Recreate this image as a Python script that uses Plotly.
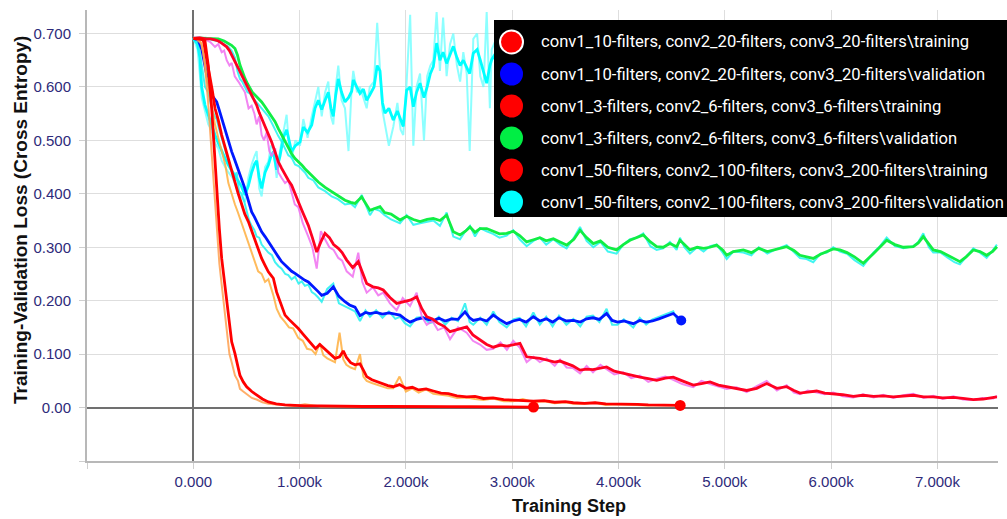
import plotly.graph_objects as go

# ---------------- data ----------------
# run A: conv1_50 / conv2_100 / conv3_200  (training)
steps_a = [0, 40, 80, 110, 140, 173, 200, 220, 245, 267, 290, 314, 340, 361, 392, 420, 439, 470, 502, 550,
           596, 650, 706, 780, 863, 950, 1050, 1200, 1400, 1600, 1800, 2000, 2200, 2400, 2600, 2800, 3000, 3200]
smooth_a = [0.691, 0.690, 0.689, 0.686, 0.641, 0.560, 0.470, 0.404, 0.335, 0.279, 0.240, 0.204, 0.158, 0.123, 0.101,
            0.076, 0.060, 0.048, 0.039, 0.030, 0.023, 0.016, 0.0105, 0.007, 0.005, 0.004, 0.003, 0.003, 0.002, 0.002,
            0.002, 0.002, 0.001, 0.002, 0.001, 0.001, 0.001, 0.001]
raw_a = [0.692, 0.688, 0.680, 0.640, 0.570, 0.470, 0.400, 0.330, 0.270, 0.230, 0.190, 0.140, 0.100, 0.085, 0.060,
         0.050, 0.035, 0.030, 0.025, 0.018, 0.015, 0.010, 0.007, 0.006, 0.004, 0.003, 0.006, 0.002, 0.002, 0.001,
         0.003, 0.002, 0.001, 0.001, 0.002, 0.001, 0.001, 0.001]

# run B: conv1_10 / conv2_20 / conv3_20  (training)
steps_b = [0, 40, 70, 94, 125, 157, 180, 204, 235, 267,
           300, 330, 360, 392, 420, 455, 485, 518, 550, 580,
           610, 643, 675, 706, 730, 753, 784, 820, 863, 900,
           940, 988, 1030, 1070, 1114, 1150, 1190, 1223, 1260, 1300,
           1333, 1376, 1411, 1440, 1480, 1521, 1568, 1600, 1631, 1680,
           1730, 1780, 1830, 1881, 1940, 2000, 2060, 2120, 2190, 2258,
           2330, 2400, 2480, 2572, 2650, 2730, 2820, 2920, 3010, 3100,
           3200, 3300, 3400, 3500, 3575, 3680, 3780, 3880, 3980, 4077,
           4180, 4280, 4380, 4480, 4580]
smooth_b = [0.691, 0.691, 0.690, 0.688, 0.655, 0.622, 0.592, 0.560, 0.538, 0.510,
            0.488, 0.466, 0.445, 0.422, 0.402, 0.379, 0.362, 0.348, 0.330, 0.316,
            0.298, 0.279, 0.266, 0.254, 0.248, 0.242, 0.216, 0.198, 0.173, 0.165,
            0.158, 0.148, 0.138, 0.128, 0.117, 0.110, 0.118, 0.112, 0.104, 0.098,
            0.092, 0.095, 0.106, 0.094, 0.084, 0.080, 0.082, 0.070, 0.058, 0.052,
            0.048, 0.044, 0.041, 0.039, 0.043, 0.036, 0.038, 0.033, 0.035, 0.031,
            0.027, 0.026, 0.022, 0.020, 0.021, 0.017, 0.018, 0.015, 0.014, 0.013,
            0.012, 0.013, 0.010, 0.011, 0.009, 0.008, 0.009, 0.007, 0.007, 0.006,
            0.006, 0.005, 0.005, 0.005, 0.004]
raw_b = [0.692, 0.690, 0.684, 0.665, 0.620, 0.585, 0.560, 0.530, 0.505, 0.480,
         0.455, 0.420, 0.400, 0.380, 0.365, 0.345, 0.330, 0.310, 0.290, 0.275,
         0.255, 0.250, 0.235, 0.240, 0.225, 0.210, 0.185, 0.170, 0.160, 0.150,
         0.148, 0.130, 0.125, 0.110, 0.108, 0.100, 0.120, 0.098, 0.092, 0.088,
         0.085, 0.140, 0.090, 0.080, 0.075, 0.072, 0.100, 0.058, 0.050, 0.046,
         0.043, 0.040, 0.036, 0.036, 0.058, 0.030, 0.036, 0.028, 0.034, 0.026,
         0.024, 0.022, 0.018, 0.019, 0.016, 0.014, 0.017, 0.012, 0.012, 0.016,
         0.010, 0.012, 0.008, 0.010, 0.007, 0.007, 0.009, 0.005, 0.006, 0.005,
         0.005, 0.004, 0.005, 0.004, 0.004]

# run C: conv1_3 / conv2_6 / conv3_6  (training)
steps_c = [0, 60, 120, 160, 204, 235, 267, 290, 314, 340,
           361, 390, 424, 455, 486, 520, 549, 575, 596, 620,
           643, 665, 690, 715, 737, 770, 800, 830, 863, 895,
           925, 955, 988, 1030, 1082, 1120, 1161, 1200, 1239, 1280,
           1320, 1364, 1400, 1443, 1500, 1552, 1590, 1631, 1690, 1740,
           1787, 1850, 1913, 1970, 2039, 2101, 2150, 2196, 2250, 2300,
           2360, 2415, 2490, 2572, 2630, 2697, 2760, 2822, 2890, 2950,
           3010, 3073, 3136, 3200, 3260, 3324, 3400, 3450, 3512, 3570,
           3638, 3700, 3760, 3830, 3888, 3960, 4045, 4120, 4202, 4280,
           4359, 4440, 4515, 4600, 4703, 4780, 4861, 4940, 5018, 5110,
           5206, 5300, 5394, 5490, 5582, 5650, 5707, 5780, 5864, 5940,
           6021, 6110, 6209, 6300, 6400, 6490, 6585, 6680, 6773, 6870,
           6961, 7050, 7150, 7240, 7338, 7430, 7526, 7560]
smooth_c = [0.691, 0.692, 0.690, 0.690, 0.688, 0.686, 0.682, 0.679, 0.675, 0.668,
            0.660, 0.650, 0.635, 0.622, 0.610, 0.598, 0.585, 0.575, 0.566, 0.552,
            0.541, 0.532, 0.522, 0.510, 0.497, 0.478, 0.460, 0.448, 0.435, 0.425,
            0.416, 0.400, 0.385, 0.365, 0.341, 0.318, 0.291, 0.310, 0.326, 0.318,
            0.305, 0.298, 0.290, 0.276, 0.262, 0.273, 0.252, 0.232, 0.226, 0.224,
            0.220, 0.206, 0.195, 0.198, 0.201, 0.207, 0.185, 0.170, 0.166, 0.158,
            0.152, 0.142, 0.146, 0.151, 0.136, 0.126, 0.118, 0.113, 0.117, 0.115,
            0.118, 0.120, 0.095, 0.094, 0.092, 0.089, 0.085, 0.087, 0.082, 0.078,
            0.070, 0.072, 0.071, 0.074, 0.076, 0.068, 0.064, 0.060, 0.057, 0.054,
            0.051, 0.055, 0.057, 0.050, 0.042, 0.045, 0.048, 0.042, 0.039, 0.036,
            0.032, 0.036, 0.045, 0.036, 0.039, 0.032, 0.027, 0.029, 0.031, 0.027,
            0.026, 0.024, 0.021, 0.023, 0.021, 0.022, 0.020, 0.021, 0.023, 0.020,
            0.020, 0.018, 0.019, 0.017, 0.015, 0.016, 0.018, 0.020]
raw_c = [0.692, 0.693, 0.688, 0.684, 0.675, 0.680, 0.665, 0.668, 0.650, 0.640,
         0.645, 0.620, 0.610, 0.600, 0.590, 0.560, 0.565, 0.550, 0.530, 0.545,
         0.510, 0.500, 0.515, 0.480, 0.470, 0.485, 0.440, 0.430, 0.420, 0.425,
         0.400, 0.380, 0.375, 0.345, 0.320, 0.300, 0.260, 0.330, 0.315, 0.300,
         0.295, 0.280, 0.275, 0.255, 0.245, 0.290, 0.235, 0.215, 0.225, 0.210,
         0.215, 0.195, 0.182, 0.205, 0.190, 0.215, 0.170, 0.155, 0.162, 0.145,
         0.150, 0.128, 0.150, 0.140, 0.125, 0.118, 0.108, 0.110, 0.122, 0.108,
         0.125, 0.112, 0.085, 0.095, 0.085, 0.092, 0.078, 0.090, 0.075, 0.074,
         0.064, 0.078, 0.066, 0.080, 0.072, 0.062, 0.066, 0.055, 0.060, 0.048,
         0.054, 0.058, 0.052, 0.044, 0.038, 0.050, 0.044, 0.040, 0.035, 0.038,
         0.029, 0.040, 0.050, 0.032, 0.042, 0.028, 0.025, 0.032, 0.028, 0.025,
         0.028, 0.021, 0.019, 0.025, 0.019, 0.024, 0.018, 0.023, 0.026, 0.018,
         0.022, 0.016, 0.021, 0.015, 0.014, 0.018, 0.017, 0.022]

# run D: conv1_3 / conv2_6 / conv3_6  (validation)
steps_d = [0, 60, 120, 180, 235, 290, 330, 360, 392, 415,
           439, 460, 486, 510, 533, 555, 580, 610, 643, 675,
           706, 740, 769, 800, 831, 865, 894, 925, 957, 990,
           1020, 1050, 1082, 1130, 1176, 1240, 1302, 1360, 1427, 1480,
           1521, 1584, 1662, 1700, 1756, 1800, 1860, 1944, 2007, 2070,
           2133, 2200, 2258, 2320, 2383, 2446, 2509, 2560, 2603, 2650,
           2697, 2760, 2820, 2880, 2948, 3010, 3070, 3136, 3200, 3260,
           3320, 3387, 3450, 3512, 3580, 3638, 3700, 3763, 3830, 3900,
           3982, 4045, 4108, 4170, 4233, 4300, 4359, 4420, 4484, 4547,
           4578, 4620, 4672, 4740, 4800, 4860, 4923, 4980, 5018, 5080,
           5174, 5250, 5320, 5400, 5480, 5582, 5650, 5707, 5770, 5832,
           5900, 5960, 6020, 6083, 6150, 6220, 6303, 6397, 6460, 6523,
           6600, 6680, 6773, 6820, 6867, 6920, 6961, 7030, 7100, 7160,
           7212, 7270, 7338, 7400, 7463, 7520, 7560]
smooth_d = [0.691, 0.692, 0.691, 0.690, 0.690, 0.686, 0.682, 0.678, 0.672, 0.660,
            0.641, 0.628, 0.616, 0.606, 0.597, 0.590, 0.585, 0.579, 0.572, 0.563,
            0.554, 0.545, 0.535, 0.522, 0.510, 0.497, 0.485, 0.475, 0.466, 0.460,
            0.454, 0.447, 0.441, 0.432, 0.422, 0.412, 0.404, 0.395, 0.388, 0.384,
            0.382, 0.394, 0.369, 0.372, 0.376, 0.365, 0.362, 0.351, 0.358, 0.352,
            0.348, 0.352, 0.354, 0.350, 0.360, 0.329, 0.323, 0.330, 0.338, 0.328,
            0.335, 0.335, 0.330, 0.325, 0.326, 0.330, 0.322, 0.310, 0.314, 0.318,
            0.312, 0.316, 0.310, 0.304, 0.315, 0.332, 0.318, 0.307, 0.312, 0.300,
            0.295, 0.305, 0.313, 0.318, 0.323, 0.310, 0.301, 0.300, 0.307, 0.301,
            0.313, 0.305, 0.295, 0.300, 0.298, 0.300, 0.304, 0.295, 0.285, 0.292,
            0.295, 0.290, 0.298, 0.292, 0.296, 0.301, 0.294, 0.285, 0.282, 0.279,
            0.287, 0.292, 0.297, 0.295, 0.290, 0.282, 0.270, 0.288, 0.300, 0.313,
            0.305, 0.300, 0.301, 0.308, 0.320, 0.305, 0.295, 0.292, 0.285, 0.278,
            0.273, 0.282, 0.295, 0.292, 0.285, 0.292, 0.301]
raw_d = [0.692, 0.690, 0.692, 0.688, 0.686, 0.680, 0.675, 0.668, 0.655, 0.630,
         0.615, 0.610, 0.600, 0.590, 0.588, 0.580, 0.575, 0.568, 0.560, 0.552,
         0.545, 0.532, 0.520, 0.508, 0.498, 0.485, 0.472, 0.468, 0.455, 0.452,
         0.445, 0.440, 0.430, 0.425, 0.412, 0.405, 0.395, 0.390, 0.380, 0.382,
         0.375, 0.398, 0.360, 0.372, 0.368, 0.360, 0.352, 0.345, 0.360, 0.342,
         0.345, 0.348, 0.350, 0.340, 0.365, 0.320, 0.315, 0.330, 0.340, 0.320,
         0.336, 0.330, 0.325, 0.318, 0.322, 0.332, 0.315, 0.302, 0.312, 0.318,
         0.305, 0.315, 0.305, 0.298, 0.318, 0.338, 0.312, 0.300, 0.310, 0.292,
         0.288, 0.305, 0.315, 0.318, 0.326, 0.302, 0.295, 0.298, 0.310, 0.295,
         0.318, 0.300, 0.288, 0.300, 0.292, 0.302, 0.305, 0.290, 0.278, 0.292,
         0.290, 0.285, 0.300, 0.288, 0.296, 0.304, 0.290, 0.280, 0.278, 0.272,
         0.288, 0.290, 0.300, 0.292, 0.288, 0.276, 0.265, 0.290, 0.302, 0.318,
         0.302, 0.298, 0.302, 0.310, 0.326, 0.300, 0.290, 0.290, 0.280, 0.272,
         0.268, 0.282, 0.298, 0.290, 0.280, 0.294, 0.305]

# run E: conv1_10 / conv2_20 / conv3_20  (validation)
steps_e = [0, 47, 80, 110, 140, 173, 200, 220, 245, 267,
           290, 314, 340, 361, 385, 408, 430, 455, 480, 502,
           525, 549, 575, 596, 620, 643, 675, 706, 740, 769,
           800, 831, 865, 894, 925, 957, 990, 1020, 1050, 1082,
           1115, 1145, 1175, 1208, 1260, 1317, 1370, 1427, 1470, 1521,
           1568, 1620, 1662, 1720, 1780, 1840, 1900, 1944, 1990, 2039,
           2100, 2160, 2220, 2258, 2310, 2370, 2430, 2490, 2556, 2600,
           2634, 2700, 2760, 2822, 2880, 2948, 3010, 3070, 3130, 3199,
           3260, 3320, 3380, 3440, 3510, 3575, 3640, 3700, 3760, 3820,
           3888, 3940, 3990, 4050, 4139, 4200, 4260, 4320, 4380, 4440,
           4515, 4550, 4590]
smooth_e = [0.691, 0.688, 0.670, 0.635, 0.608, 0.585, 0.578, 0.572, 0.556, 0.541,
            0.525, 0.510, 0.494, 0.479, 0.466, 0.454, 0.442, 0.429, 0.413, 0.398,
            0.382, 0.366, 0.357, 0.348, 0.338, 0.329, 0.320, 0.310, 0.300, 0.291,
            0.282, 0.273, 0.266, 0.260, 0.255, 0.251, 0.246, 0.242, 0.238, 0.235,
            0.229, 0.223, 0.217, 0.210, 0.214, 0.226, 0.208, 0.198, 0.192, 0.188,
            0.172, 0.178, 0.176, 0.178, 0.175, 0.177, 0.174, 0.173, 0.166, 0.160,
            0.165, 0.168, 0.164, 0.163, 0.167, 0.162, 0.166, 0.165, 0.179, 0.168,
            0.163, 0.166, 0.162, 0.173, 0.165, 0.157, 0.162, 0.165, 0.160, 0.170,
            0.162, 0.166, 0.160, 0.168, 0.162, 0.163, 0.160, 0.166, 0.168, 0.165,
            0.176, 0.163, 0.160, 0.162, 0.157, 0.163, 0.160, 0.162, 0.166, 0.170,
            0.176, 0.170, 0.163]
raw_e = [0.692, 0.680, 0.640, 0.600, 0.590, 0.560, 0.545, 0.540, 0.520, 0.505,
         0.490, 0.470, 0.455, 0.440, 0.430, 0.440, 0.405, 0.400, 0.385, 0.365,
         0.350, 0.340, 0.332, 0.320, 0.318, 0.305, 0.298, 0.290, 0.285, 0.272,
         0.265, 0.260, 0.250, 0.248, 0.240, 0.245, 0.232, 0.236, 0.228, 0.230,
         0.216, 0.212, 0.206, 0.198, 0.222, 0.232, 0.195, 0.190, 0.185, 0.180,
         0.162, 0.182, 0.170, 0.182, 0.168, 0.180, 0.166, 0.170, 0.158, 0.152,
         0.168, 0.170, 0.158, 0.160, 0.170, 0.155, 0.168, 0.162, 0.195, 0.160,
         0.155, 0.168, 0.155, 0.180, 0.160, 0.150, 0.165, 0.168, 0.152, 0.178,
         0.155, 0.170, 0.152, 0.172, 0.155, 0.166, 0.152, 0.170, 0.172, 0.160,
         0.185, 0.155, 0.155, 0.165, 0.150, 0.168, 0.155, 0.165, 0.170, 0.174,
         0.180, 0.165, 0.160]

# run F: conv1_50 / conv2_100 / conv3_200  (validation)
steps_f = [0, 40, 63, 79, 110, 141, 170, 204, 235, 267,
           300, 330, 370, 408, 450, 486, 518, 549, 575, 596,
           620, 643, 675, 706, 730, 753, 784, 815, 847, 878,
           900, 925, 960, 1004, 1035, 1075, 1114, 1145, 1176, 1208,
           1240, 1270, 1295, 1317, 1340, 1364, 1395, 1427, 1460, 1490,
           1505, 1540, 1568, 1600, 1631, 1660, 1700, 1730, 1756, 1780,
           1803, 1840, 1881, 1920, 1950, 1975, 2007, 2040, 2070, 2100,
           2133, 2170, 2200, 2230, 2258, 2289, 2320, 2350, 2383, 2415,
           2446, 2480, 2510, 2540, 2572, 2600, 2634, 2670, 2700, 2730,
           2760, 2790, 2807, 2850, 2900, 2950, 3000, 3050, 3100, 3150,
           3200]
smooth_f = [0.691, 0.680, 0.654, 0.600, 0.566, 0.547, 0.530, 0.510, 0.495, 0.479,
            0.466, 0.454, 0.441, 0.429, 0.415, 0.398, 0.415, 0.440, 0.455, 0.462,
            0.430, 0.410, 0.440, 0.454, 0.470, 0.479, 0.445, 0.470, 0.505, 0.520,
            0.500, 0.479, 0.490, 0.497, 0.525, 0.515, 0.529, 0.560, 0.575, 0.558,
            0.575, 0.590, 0.560, 0.545, 0.585, 0.615, 0.590, 0.572, 0.580, 0.592,
            0.613, 0.600, 0.588, 0.596, 0.575, 0.585, 0.600, 0.640, 0.630, 0.570,
            0.551, 0.560, 0.538, 0.555, 0.540, 0.526, 0.594, 0.600, 0.563, 0.590,
            0.607, 0.580, 0.600, 0.625, 0.638, 0.682, 0.650, 0.665, 0.644, 0.660,
            0.676, 0.655, 0.640, 0.650, 0.638, 0.625, 0.663, 0.670, 0.650, 0.630,
            0.607, 0.640, 0.651, 0.665, 0.640, 0.655, 0.670, 0.650, 0.640, 0.660,
            0.650]
raw_f = [0.692, 0.670, 0.620, 0.580, 0.555, 0.530, 0.520, 0.495, 0.485, 0.462,
         0.450, 0.440, 0.430, 0.410, 0.395, 0.385, 0.430, 0.455, 0.470, 0.480,
         0.410, 0.395, 0.450, 0.460, 0.490, 0.485, 0.430, 0.480, 0.515, 0.548,
         0.490, 0.465, 0.500, 0.490, 0.540, 0.505, 0.545, 0.575, 0.600, 0.545,
         0.590, 0.610, 0.545, 0.530, 0.600, 0.640, 0.575, 0.560, 0.480, 0.600,
         0.630, 0.590, 0.600, 0.580, 0.560, 0.600, 0.610, 0.720, 0.620, 0.555,
         0.530, 0.490, 0.525, 0.570, 0.520, 0.510, 0.610, 0.735, 0.490, 0.600,
         0.625, 0.500, 0.620, 0.640, 0.650, 0.740, 0.630, 0.730, 0.620, 0.680,
         0.700, 0.640, 0.610, 0.665, 0.625, 0.480, 0.690, 0.700, 0.620, 0.600,
         0.740, 0.560, 0.670, 0.690, 0.620, 0.680, 0.700, 0.630, 0.620, 0.690,
         0.640]

legend_labels = [
    "conv1_10-filters, conv2_20-filters, conv3_20-filters\\training",
    "conv1_10-filters, conv2_20-filters, conv3_20-filters\\validation",
    "conv1_3-filters, conv2_6-filters, conv3_6-filters\\training",
    "conv1_3-filters, conv2_6-filters, conv3_6-filters\\validation",
    "conv1_50-filters, conv2_100-filters, conv3_200-filters\\training",
    "conv1_50-filters, conv2_100-filters, conv3_200-filters\\validation",
]
legend_colors = ["#ff0000", "#0000ff", "#ff0000", "#00ee44", "#ff0000", "#00ffff"]

x_tick_vals = [-1000, 0, 1000, 2000, 3000, 4000, 5000, 6000, 7000]
x_tick_text = ["", "0.000", "1.000k", "2.000k", "3.000k", "4.000k", "5.000k", "6.000k", "7.000k"]
y_tick_vals = [-0.1, 0.0, 0.1, 0.2, 0.3, 0.4, 0.5, 0.6, 0.7]
y_tick_text = ["", "0.00", "0.100", "0.200", "0.300", "0.400", "0.500", "0.600", "0.700"]

x_title = "Training Step"
y_title = "Training-Validation Loss (Cross Entropy)"

for nm, s, a, b in [("a", steps_a, smooth_a, raw_a), ("b", steps_b, smooth_b, raw_b),
                    ("c", steps_c, smooth_c, raw_c), ("d", steps_d, smooth_d, raw_d),
                    ("e", steps_e, smooth_e, raw_e), ("f", steps_f, smooth_f, raw_f)]:
    assert len(s) == len(a) == len(b), (nm, len(s), len(a), len(b))

# ---------------- layout geometry ----------------
W, H = 1007, 519
ML, MR, MT, MB = 87, 9, 10, 58


def pxp(xp):
    return (xp - ML) / (W - ML - MR)


def pyp(yp):
    return (H - MB - yp) / (H - MT - MB)


fig = go.Figure()

series = [
    # steps, smooth, raw, bold colour, raw colour, raw opacity
    (steps_f, smooth_f, raw_f, "#00ffff", "#66ffff", 0.75),
    (steps_d, smooth_d, raw_d, "#11ee44", "#22f5f0", 0.85),
    (steps_e, smooth_e, raw_e, "#0018ff", "#22f0f0", 0.85),
    (steps_c, smooth_c, raw_c, "#ff0022", "#f070f0", 0.85),
    (steps_b, smooth_b, raw_b, "#ff0000", "#ffb040", 0.85),
    (steps_a, smooth_a, raw_a, "#ff0000", "#ffa050", 0.85),
]
for s, sm, rw, col, rcol, rop in series:
    fig.add_trace(go.Scatter(x=s, y=rw, mode="lines", line=dict(color=rcol, width=2),
                             opacity=rop, hoverinfo="skip", showlegend=False))
    fig.add_trace(go.Scatter(x=s, y=sm, mode="lines", line=dict(color=col, width=2.8),
                             hoverinfo="skip", showlegend=False))

# end-of-run dots
for s, sm, col, sz in [(steps_a, smooth_a, "#ff0000", 11), (steps_b, smooth_b, "#ff0000", 11),
                       (steps_e, smooth_e, "#0018ff", 10)]:
    fig.add_trace(go.Scatter(x=[s[-1]], y=[sm[-1]], mode="markers",
                             marker=dict(color=col, size=sz), hoverinfo="skip", showlegend=False))

axis_common = dict(
    showgrid=True, gridcolor="#dedede", gridwidth=1,
    zeroline=True, zerolinecolor="#707070", zerolinewidth=2,
    showline=True, linecolor="#b8b8b8", linewidth=2,
    ticks="outside", ticklen=6, tickcolor="#cfcfcf", tickwidth=1,
    tickfont=dict(family="Liberation Sans, Arial", size=15, color="#2e2a7a"),
)
fig.update_xaxes(range=[-1000, 7570], tickmode="array", tickvals=x_tick_vals, ticktext=x_tick_text,
                 ticklabelstandoff=0, **axis_common)
fig.update_yaxes(range=[-0.1, 0.744], tickmode="array", tickvals=y_tick_vals, ticktext=y_tick_text,
                 ticklabelstandoff=5, **axis_common)

# axis titles
fig.add_annotation(x=pxp(21), y=pyp(220), xref="paper", yref="paper", text=y_title, textangle=-90,
                   showarrow=False, xanchor="center", yanchor="middle",
                   font=dict(family="Liberation Sans, Arial", size=19, color="#111111", weight="bold"))
fig.add_annotation(x=pxp(569), y=pyp(506), xref="paper", yref="paper", text=x_title,
                   showarrow=False, xanchor="center", yanchor="middle",
                   font=dict(family="Liberation Sans, Arial", size=18, color="#111111", weight="bold"))

# legend box (drawn like the reference's black legend panel)
fig.add_shape(type="rect", xref="paper", yref="paper", x0=pxp(494), x1=pxp(1012), y0=pyp(217), y1=pyp(20),
              fillcolor="#000000", line=dict(width=0), layer="above")
for i, (lab, col) in enumerate(zip(legend_labels, legend_colors)):
    cy = 42 + 32 * i
    fig.add_shape(type="circle", xref="paper", yref="paper", xsizemode="pixel", ysizemode="pixel",
                  xanchor=pxp(511.5), yanchor=pyp(cy), x0=-11.5, x1=11.5, y0=-11.5, y1=11.5,
                  fillcolor=col, line=dict(color="#ffffff" if i == 0 else col, width=2 if i == 0 else 0),
                  layer="above")
    fig.add_annotation(x=pxp(539), y=pyp(cy), xref="paper", yref="paper", text=lab, showarrow=False,
                       xanchor="left", yanchor="middle",
                       font=dict(family="Roboto", size=16.6, color="#ffffff"))

fig.update_layout(width=W, height=H, margin=dict(l=ML, r=MR, t=MT, b=MB, pad=0),
                  plot_bgcolor="#ffffff", paper_bgcolor="#ffffff", showlegend=False)

fig.write_html("out.html", config={"displayModeBar": False},
               post_script="document.body.style.margin='0';document.documentElement.style.overflow='hidden';")
